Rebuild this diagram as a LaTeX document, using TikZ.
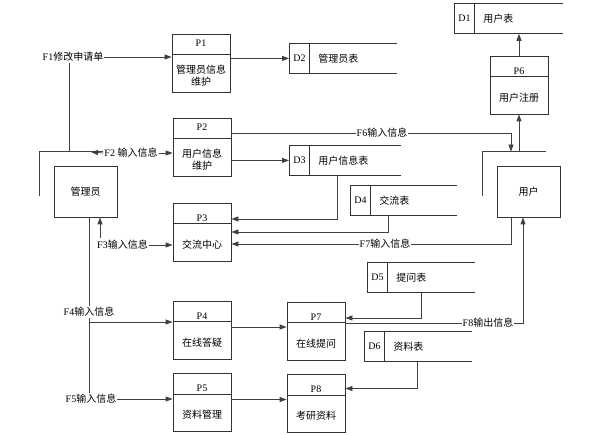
\documentclass[tikz,border=0pt]{standalone}
\usepackage{fontspec}
\setmainfont{Liberation Serif}
\newfontfamily\cjk{Noto Sans CJK SC}
\usetikzlibrary{arrows.meta}

\tikzset{
	box/.style={draw=black!80, line width=0.8pt},
	procbox/.style={box, minimum width=58pt, minimum height=58pt, inner sep=0pt},
	entbox/.style={box, minimum width=63pt, minimum height=51pt, font=\cjk},
	storeid/.style={box, minimum width=20pt, minimum height=30pt, inner sep=0pt, anchor=north west},
	line/.style={draw=black!75, line width=0.8pt},
	flow/.style={line, -{Triangle[length=7pt,width=5pt]}},
	flowlabel/.style={inner sep=1pt},
}

\newcommand{\dfdproc}[5]{%
	\node[procbox] (#1) at (#2) {};
	\draw[box] ([yshift=-21pt]#1.north west) -- ([yshift=-21pt]#1.north east);
	\node at ([yshift=-#5]#1.north) {#3};
	\node[font=\cjk, align=center] at ([yshift=-42pt]#1.north) {#4};
}
\newcommand{\dfdstore}[5]{%
	\node[storeid] (#1) at (#2) {#4};
	\draw[box] (#1.north east) -- ++(#3,0);
	\draw[box] (#1.south east) -- ++(#3,0);
	\node[font=\cjk, anchor=west] (#1t) at ([xshift=5pt]#1.east) {#5};
}

\begin{document}
\begin{tikzpicture}[x=1pt, y=-1pt]
	\useasboundingbox (0,0) rectangle (616,435);
	\dfdproc{p1}{201,63}{P1}{管理员信息\\维护}{9.5pt}
	\dfdproc{p2}{202,147}{P2}{用户信息\\维护}{9.5pt}
	\dfdproc{p3}{202,232}{P3}{交流中心}{15.5pt}
	\dfdproc{p4}{202,330}{P4}{在线答疑}{15.5pt}
	\dfdproc{p5}{202,402.5}{P5}{资料管理}{15.5pt}
	\dfdproc{p6}{519,85}{P6}{用户注册}{15.5pt}
	\dfdproc{p7}{316,331}{P7}{在线提问}{15.5pt}
	\dfdproc{p8}{316,403.5}{P8}{考研资料}{15.5pt}
	\dfdstore{d1}{454,3}{88}{D1}{用户表}
	\dfdstore{d2}{289,43}{87}{D2}{管理员表}
	\dfdstore{d3}{289,145}{91}{D3}{用户信息表}
	\dfdstore{d4}{350,185}{86}{D4}{交流表}
	\dfdstore{d5}{367,262}{87}{D5}{提问表}
	\dfdstore{d6}{364,331}{87}{D6}{资料表}
	\node[entbox] (adm) at (85.5,191.5) {管理员};
	\node[entbox] (usr) at (528.5,191.5) {用户};
	\draw[line] ([shift={(-14pt,-30pt)}]adm.north west) -- ([shift={(-14pt,14pt)}]adm.north west) -- ([shift={(-14pt,14pt)}]adm.north east);
	\draw[line] ([shift={(-14pt,-30pt)}]usr.north west) -- ([shift={(-14pt,14pt)}]usr.north west) -- ([shift={(-14pt,14pt)}]usr.north east);
	\node[flowlabel] (f1) at (73,57) {F1{\cjk 修改申请单}};
	\node[flowlabel] (f2) at (131,153) {F2 {\cjk 输入信息}};
	\node[flowlabel] (f3) at (122.5,245) {F3{\cjk 输入信息}};
	\node[flowlabel] (f4) at (89,312) {F4{\cjk 输入信息}};
	\node[flowlabel] (f5) at (91,399) {F5{\cjk 输入信息}};
	\node[flowlabel] (f6) at (382,133) {F6{\cjk 输入信息}};
	\node[flowlabel] (f7) at (385,244) {F7{\cjk 输入信息}};
	\node[flowlabel] (f8) at (488,323) {F8{\cjk 输出信息}};
	\coordinate (f1foot) at (69,152);
	\coordinate (f2tip) at (91,152);
	\coordinate (f3up) at (100,238);
	\coordinate (trunk) at ([xshift=3.5pt]adm.south);
	\coordinate (f4fork) at (89,322);
	\coordinate (usrtop) at ([yshift=14pt]usr.north);
	\draw[line] (f1foot) -- (f1foot |- f1.south);
	\draw[flow] (f1.east) -- (f1.east -| p1.west);
	\draw[flow] (d2.west -| p1.east) -- (d2.west);
	\draw[flow] (f2.west) -- (f2tip);
	\draw[flow] (f2.east) -- (f2.east -| p2.west);
	\draw[flow] (d3.west -| p2.east) -- (d3.west);
	\draw[line] ([yshift=14pt]p2.east) -- (f6);
	\draw[flow] (f6) -| ([xshift=-17.5pt]usrtop);
	\draw[flow] (usrtop -| p6.south) -- (p6.south);
	\draw[flow] (p6.north) -- (p6.north |- d1.south);
	\draw[flow] ([xshift=28pt]d3.south east) |- ([yshift=13pt]p3.east);
	\draw[flow] ([xshift=18pt]d4.south east) |- (p3.east);
	\draw[line] ([xshift=-17.5pt]usr.south) |- (f7);
	\draw[flow] (f7) -- (f7 -| p3.east);
	\draw[flow] (f3up) -- (f3up |- adm.south);
	\draw[flow] (f3.east) -- (f3.east -| p3.west);
	\draw[line] (trunk) -- (trunk |- f4.north);
	\draw[line] (trunk |- f4.south) -- (trunk |- f5.north);
	\draw[flow] (f4fork) -- (f4fork -| p4.west);
	\draw[flow] (f5.east) -- (f5.east -| p5.west);
	\draw[flow] ([yshift=3pt]p4.east) -- ([yshift=3pt]p4.east -| p7.west);
	\draw[flow] ([yshift=3pt]p5.east) -- ([yshift=3pt]p5.east -| p8.west);
	\draw[flow] ([xshift=34pt]d5.south east) |- ([yshift=13pt]p7.east);
	\draw[flow] ([xshift=33pt]d6.south east) |- ([yshift=15pt]p8.east);
	\draw[line] ([yshift=8pt]p7.east) -- (f8);
	\draw[flow] (f8) -| ([xshift=-5.5pt]usr.south);
\end{tikzpicture}
\end{document}
